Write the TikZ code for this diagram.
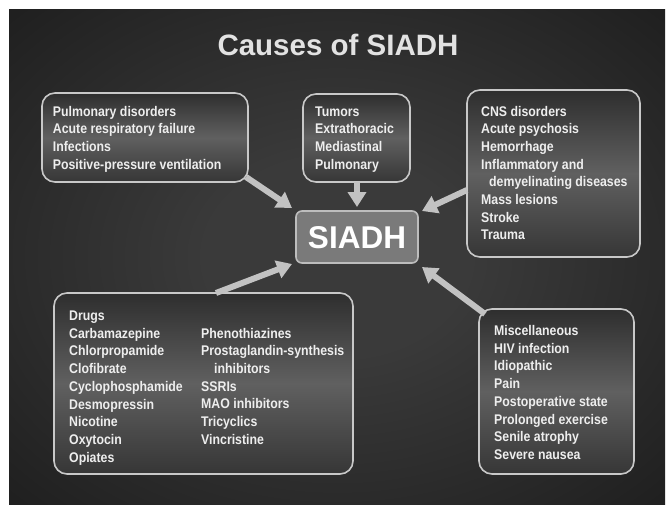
\documentclass[tikz,border=0pt]{standalone}
\usepackage{fontspec}
\setmainfont{Liberation Sans}
\newfontfamily\boxfont[FakeStretch=0.88]{Liberation Sans}
\usetikzlibrary{arrows.meta,calc}
\definecolor{bgin}{HTML}{3A3A3A}
\definecolor{bgout}{HTML}{101010}
\definecolor{boxline}{HTML}{C8C8C8}
\definecolor{boxtop}{HTML}{2E2E2E}
\definecolor{boxmid}{HTML}{606060}
\definecolor{boxbot}{HTML}{363636}
\definecolor{txtcol}{HTML}{EEEEEE}
\definecolor{arrcol}{HTML}{C2C2C2}
\definecolor{centfill}{HTML}{7A7A7A}
\definecolor{centline}{HTML}{BDBDBD}
\pgfdeclareradialshading{bgshade}{\pgfpoint{0bp}{0bp}}{color(0bp)=(bgin); color(10bp)=(bgin); color(50bp)=(bgout); color(72bp)=(bgout)}
\newcommand{\lines}[1]{\begin{tabular}[t]{@{}l@{}}#1\end{tabular}}
\begin{document}
\begin{tikzpicture}[x=1pt,y=-1pt,
  cbox/.style={draw=boxline, line width=1.6pt, rounded corners=13pt,
    top color=boxtop, bottom color=boxbot, middle color=boxmid,
    inner sep=0pt, outer sep=0pt},
  txt/.style={anchor=base west, inner sep=0pt, text=txtcol,
    font=\boxfont\bfseries\fontsize{14}{17.7}\selectfont},
  arr/.style={draw=arrcol, line width=6pt,
    -{Triangle[width=18pt,length=15pt]}}]
\useasboundingbox (0,0) rectangle (667,504);
\fill[white] (0,0) rectangle (667,504);
\path[shading=bgshade] (9,9) rectangle (665,504);

\node[anchor=base, inner sep=0pt, text=txtcol!95!black,
  font=\bfseries\fontsize{29.5}{32}\selectfont] (title) at (338,55) {Causes of SIADH};

% boxes
\path[cbox] (42,93) rectangle (248,182);
\path[cbox] (303,94) rectangle (410,182);
\path[cbox] (467,90) rectangle (640,257);
\path[cbox] (54,293) rectangle (353,474);
\path[cbox] (479,309) rectangle (634,474);

% center
\node[draw=centline, fill=centfill, line width=1.6pt, rounded corners=6pt,
  minimum width=122pt, minimum height=52pt, inner sep=0pt] (s) at (357,237) {};
\node[anchor=base, inner sep=0pt, text=white,
  font=\bfseries\fontsize{31.5}{33}\selectfont] (stxt) at (357,248.5) {SIADH};

% texts
\node[txt] (t1) at (52.7,116) {\lines{Pulmonary disorders\\Acute respiratory failure\\Infections\\Positive-pressure ventilation}};
\node[txt] (t2) at (315,116) {\lines{Tumors\\Extrathoracic\\Mediastinal\\Pulmonary}};
\node[txt] (t3) at (481,116) {\lines{CNS disorders\\Acute psychosis\\Hemorrhage\\Inflammatory and\\\hspace*{8pt}demyelinating diseases\\Mass lesions\\Stroke\\Trauma}};
\node[txt] (t4a) at (69,320.5) {\lines{Drugs\\Carbamazepine\\Chlorpropamide\\Clofibrate\\Cyclophosphamide\\Desmopressin\\Nicotine\\Oxytocin\\Opiates}};
\node[txt] (t4b) at (201,338) {\lines{Phenothiazines\\Prostaglandin-synthesis\\\hspace*{13pt}inhibitors\\SSRIs\\MAO inhibitors\\Tricyclics\\Vincristine}};
\node[txt] (t5) at (494,335.5) {\lines{Miscellaneous\\HIV infection\\Idiopathic\\Pain\\Postoperative state\\Prolonged exercise\\Senile atrophy\\Severe nausea}};

% arrow ends
\coordinate (a1) at (246,177);
\coordinate (h1) at (292,208);
\coordinate (a2) at (357,182);
\coordinate (h2) at (357,207);
\coordinate (a3) at (467,190);
\coordinate (h3) at (422,211);
\coordinate (a4) at (216,293);
\coordinate (h4) at (292,264);
\coordinate (a5) at (485,314);
\coordinate (h5) at (422,267);

\draw[arr] (a1) -- (h1);
\draw[arr] (a2) -- (h2);
\draw[arr] (a3) -- (h3);
\draw[arr] (a4) -- (h4);
\draw[arr] (a5) -- (h5);
\end{tikzpicture}
\end{document}
